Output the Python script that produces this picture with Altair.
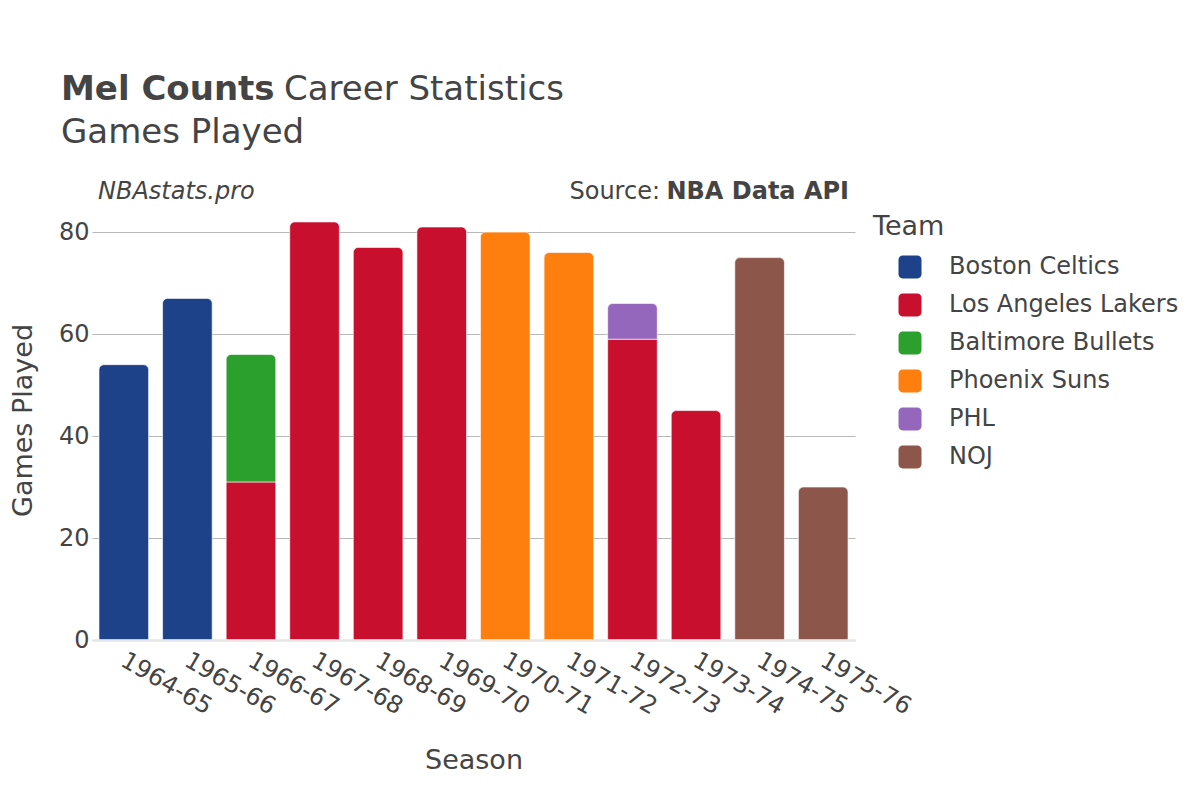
import altair as alt
import pandas as pd

seasons = ["1964-65", "1965-66", "1966-67", "1967-68", "1968-69", "1969-70",
           "1970-71", "1971-72", "1972-73", "1973-74", "1974-75", "1975-76"]
teams = ["Boston Celtics", "Los Angeles Lakers", "Baltimore Bullets",
         "Phoenix Suns", "PHL", "NOJ"]
team_colors = ["#1d428a", "#c8102e", "#2ca02c", "#ff7f0e", "#9467bd", "#8c564b"]

seg_season = ["1964-65", "1965-66", "1966-67", "1966-67", "1967-68", "1968-69",
              "1969-70", "1970-71", "1971-72", "1972-73", "1972-73", "1973-74",
              "1974-75", "1975-76"]
seg_team = ["Boston Celtics", "Boston Celtics", "Los Angeles Lakers", "Baltimore Bullets",
            "Los Angeles Lakers", "Los Angeles Lakers", "Los Angeles Lakers",
            "Phoenix Suns", "Phoenix Suns", "Los Angeles Lakers", "PHL",
            "Los Angeles Lakers", "NOJ", "NOJ"]
seg_games = [54, 67, 31, 25, 82, 77, 81, 80, 76, 59, 7, 45, 75, 30]

y_ticks = [0, 20, 40, 60, 80]

df = pd.DataFrame({
    "season": seg_season,
    "team": seg_team,
    "games": seg_games,
    "order": [teams.index(t) for t in seg_team],
})

FONT = "DejaVu Sans"
TXT = "#444444"

rounded_square = ("M-0.64,-1H0.64A0.36,0.36,0,0,1,1,-0.64V0.64"
                  "A0.36,0.36,0,0,1,0.64,1H-0.64A0.36,0.36,0,0,1,-1,0.64"
                  "V-0.64A0.36,0.36,0,0,1,-0.64,-1Z")

x_enc = alt.X("season:N",
              scale=alt.Scale(domain=seasons, paddingInner=0.22, paddingOuter=0.11),
              axis=alt.Axis(title="Season", labelAngle=30, labelAlign="left",
                            labelBaseline="top", labelPadding=8, labelOffset=5,
                            labelFontSize=24, labelColor=TXT, ticks=False, domain=True,
                            domainColor="#e6e6e6", domainWidth=2.5, zindex=1,
                            titleFontSize=27, titleFontWeight="normal", titleColor=TXT,
                            titleX=381.5, titleY=128, titleBaseline="alphabetic",
                            titleAlign="center", labelOverlap=False))
y_enc = alt.Y("start:Q",
              scale=alt.Scale(domain=[0, 86.3], nice=False, zero=True),
              axis=alt.Axis(title="Games Played", values=y_ticks, labelFontSize=24,
                            labelColor=TXT, labelPadding=3, ticks=False, domain=False,
                            gridColor="#b8b8b8", gridWidth=1,
                            titleFontSize=27, titleFontWeight="normal", titleColor=TXT,
                            titleAngle=-90, titleX=-69, titleY=220,
                            titleAlign="center", titleBaseline="middle"))
color_enc = alt.Color("team:N",
                      scale=alt.Scale(domain=teams, range=team_colors),
                      legend=alt.Legend(title="Team", orient="none",
                                        legendX=781, legendY=14))

base = (alt.Chart(df)
        .transform_stack(stack="games", groupby=["season"], as_=["start", "end"],
                         sort=[alt.SortField("order", order="ascending")])
        .transform_joinaggregate(total="max(end)", groupby=["season"]))

lower = (base.transform_filter("datum.end < datum.total")
         .mark_bar(stroke="white", strokeWidth=1, strokeOpacity=0.6)
         .encode(x=x_enc, y=y_enc, y2="end:Q", color=color_enc))
upper = (base.transform_filter("datum.end >= datum.total")
         .mark_bar(stroke="white", strokeWidth=1, strokeOpacity=0.6,
                   cornerRadiusTopLeft=5, cornerRadiusTopRight=5)
         .encode(x=x_enc, y=y_enc, y2="end:Q", color=color_enc))

one = pd.DataFrame({"k": [0]})


def label(text, x, y, size, weight="normal", style="normal", align="left"):
    return (alt.Chart(one)
            .mark_text(text=text, fontSize=size, fontWeight=weight, fontStyle=style,
                       align=align, baseline="alphabetic", font=FONT, color=TXT)
            .encode(x=alt.value(x), y=alt.value(y)))


texts = [
    label("Mel Counts", -31, -100, 34, weight="bold"),
    label("Career Statistics", 192, -100, 34),
    label("Games Played", -31, -57, 34),
    label("NBAstats.pro", 6, -1, 24, style="italic"),
    label("NBA Data API", 757, -1, 24, weight="bold", align="right"),
    label("Source:", 568, -1, 24, align="right"),
]

chart = (alt.layer(lower, upper, *texts)
         .properties(width=763, height=440,
                     autosize=alt.AutoSizeParams(type="none"),
                     padding={"left": 84, "top": 192, "right": 337, "bottom": 152})
         .configure(font=FONT)
         .configure_view(stroke=None)
         .configure_legend(titleFontSize=27, titleFontWeight="normal", titleColor=TXT,
                           labelFontSize=24, labelColor=TXT, labelLimit=0,
                           symbolType=rounded_square,
                           symbolSize=529, symbolStrokeWidth=0, symbolOpacity=1,
                           symbolOffset=25, labelOffset=27, rowPadding=14,
                           titlePadding=14, padding=0))

chart.save("out.html", embed_options={"renderer": "svg", "actions": False})
